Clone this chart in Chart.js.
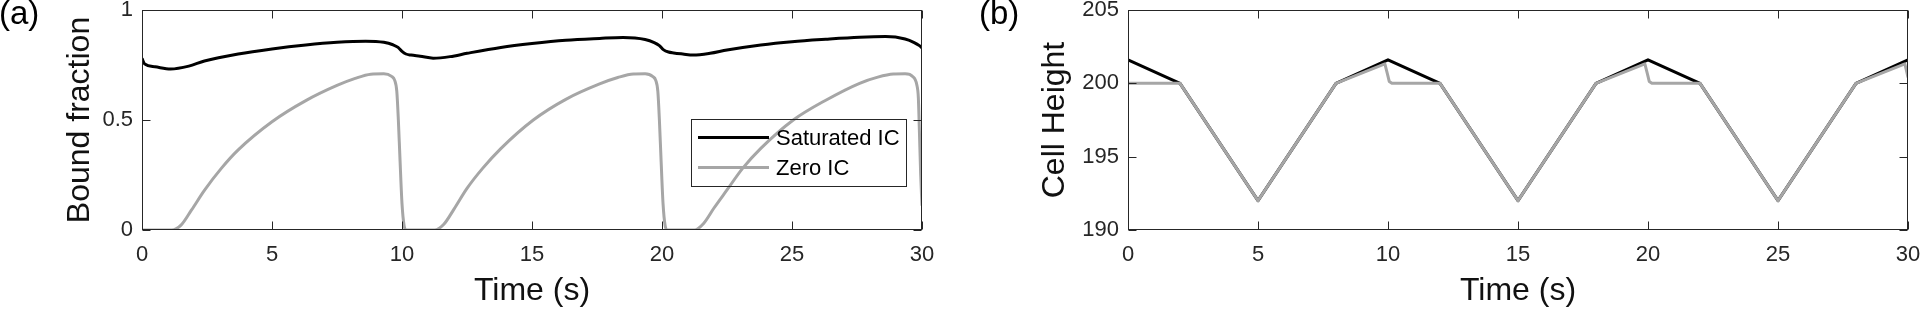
<!DOCTYPE html>
<html><head><meta charset="utf-8">
<script src="https://cdn.jsdelivr.net/npm/chart.js@4.4.0/dist/chart.umd.min.js"></script>
<style>
html,body{margin:0;padding:0;background:#fff;width:1920px;height:311px;overflow:hidden;}
.panel{position:absolute;top:0;width:960px;height:311px;}
.tag{position:absolute;font-family:"Liberation Sans",Arial,sans-serif;font-size:33px;line-height:1;color:#000;top:-4px;}
</style></head><body>
<div class="panel" style="left:0"><canvas id="ca" width="960" height="311"></canvas></div>
<div class="panel" style="left:960px"><canvas id="cb" width="960" height="311"></canvas></div>
<div class="tag" style="left:-1px">(a)</div>
<div class="tag" style="left:979px">(b)</div>
<script>
// ---------- data ----------
const seriesLabels = ['Saturated IC', 'Zero IC'];
const xTickValues = [0, 5, 10, 15, 20, 25, 30];
const yTicksA = [0, 0.5, 1];
const yTicksB = [190, 195, 200, 205];

const timeSatA = [0, 0.1, 0.5, 1.1, 1.8, 2.4, 3.7, 5.0, 6.3, 7.5, 8.6, 9.3, 9.65, 9.85, 10.0, 10.15, 10.35, 10.7, 11.2, 11.85, 12.5, 13.8, 15.0, 16.3, 17.6, 18.5, 19.35, 19.7, 19.9, 20.05, 20.25, 20.45, 20.8, 21.2, 21.85, 22.5, 23.8, 25.0, 26.3, 27.6, 28.6, 29.35, 29.7, 29.9, 30.0];
const boundSat = [0.780, 0.755, 0.742, 0.732, 0.745, 0.768, 0.800, 0.823, 0.841, 0.853, 0.858, 0.853, 0.842, 0.830, 0.812, 0.800, 0.795, 0.790, 0.781, 0.788, 0.803, 0.830, 0.848, 0.863, 0.871, 0.875, 0.866, 0.852, 0.838, 0.820, 0.809, 0.805, 0.800, 0.795, 0.803, 0.818, 0.841, 0.856, 0.867, 0.876, 0.879, 0.868, 0.852, 0.838, 0.828];

const timeZeroA = [0, 1.15, 1.5, 1.9, 2.4, 3.05, 3.7, 5.0, 6.3, 7.5, 8.2, 8.8, 9.3, 9.6, 9.72, 9.8, 9.86, 9.92, 10.0, 10.08, 10.15,
  11.25, 11.6, 12.0, 12.5, 13.1, 13.8, 15.05, 16.3, 17.6, 18.3, 18.9, 19.35, 19.65, 19.76, 19.84, 19.9, 19.96, 20.04, 20.12, 20.2,
  21.25, 21.6, 22.0, 22.5, 23.1, 23.8, 25.05, 26.3, 27.6, 28.3, 28.9, 29.35, 29.65, 29.8, 29.86, 29.9, 29.95, 30.0];
const boundZero = [0, 0, 0.022, 0.09, 0.18, 0.28, 0.364, 0.492, 0.588, 0.657, 0.689, 0.708, 0.710, 0.698, 0.68, 0.63, 0.50, 0.33, 0.12, 0.02, 0,
  0, 0.025, 0.095, 0.189, 0.28, 0.37, 0.50, 0.594, 0.664, 0.693, 0.709, 0.710, 0.697, 0.68, 0.63, 0.50, 0.33, 0.12, 0.02, 0,
  0, 0.03, 0.10, 0.182, 0.28, 0.371, 0.50, 0.59, 0.667, 0.695, 0.709, 0.710, 0.697, 0.66, 0.60, 0.45, 0.25, 0.11];

const timeSatB = [0, 2, 5, 8, 10, 12, 15, 18, 20, 22, 25, 28, 30];
const heightSat = [201.6, 200, 192, 200, 201.6, 200, 192, 200, 201.6, 200, 192, 200, 201.6];

const timeZeroB = [0, 2, 5, 8, 9.88, 9.97, 10.05, 10.15, 12, 15, 18, 19.88, 19.97, 20.05, 20.15, 22, 25, 28, 29.88, 29.95, 30];
const heightZero = [200, 200, 192, 200, 201.32, 200.7, 200.12, 200, 200, 192, 200, 201.32, 200.7, 200.12, 200, 200, 192, 200, 201.32, 200.8, 200.4];

// ---------- styling ----------
const FONT = '"Liberation Sans", Arial, sans-serif';
const AXIS = '#262626';
const BLACK = '#000000';
const GRAY = '#a6a6a6';
Chart.defaults.font.family = FONT;

const zip = (xs, ys) => xs.map((x, i) => ({x, y: ys[i]}));

const framePlugin = {
  id: 'frame',
  afterDatasetsDraw(chart) {
    const {ctx, chartArea: a, scales: {x, y}} = chart;
    const L = Math.round(a.left) + 0.5, R = Math.round(a.right) - 0.5;
    const T = Math.round(a.top) + 0.5, B = Math.round(a.bottom) - 0.5;
    ctx.save();
    ctx.strokeStyle = AXIS; ctx.lineWidth = 1;
    ctx.strokeRect(L, T, R - L, B - T);
    ctx.beginPath();
    x.ticks.forEach(t => {
      const p = Math.round(x.getPixelForValue(t.value)) + 0.5;
      ctx.moveTo(p, B); ctx.lineTo(p, B - 8);
      ctx.moveTo(p, T); ctx.lineTo(p, T + 8);
    });
    y.ticks.forEach(t => {
      const p = Math.round(y.getPixelForValue(t.value)) + 0.5;
      ctx.moveTo(L, p); ctx.lineTo(L + 8, p);
      ctx.moveTo(R, p); ctx.lineTo(R - 8, p);
    });
    ctx.stroke();
    ctx.restore();
  }
};

const legendPlugin = {
  id: 'boxLegend',
  afterDatasetsDraw(chart, args, o) {
    if (!o || !o.show) return;
    const {ctx, chartArea: a} = chart;
    const bx = Math.round(a.left + o.dx), by = Math.round(a.top + o.dy);
    ctx.save();
    ctx.strokeStyle = AXIS; ctx.lineWidth = 1;
    ctx.strokeRect(bx + 0.5, by + 0.5, o.w, o.h);
    ctx.font = '22px ' + FONT;
    ctx.textBaseline = 'middle'; ctx.textAlign = 'left';
    ctx.fillStyle = '#000';
    chart.data.datasets.forEach((ds, i) => {
      const ly = by + o.row0 + i * o.rowH;
      ctx.strokeStyle = ds.borderColor; ctx.lineWidth = ds.borderWidth;
      ctx.beginPath(); ctx.moveTo(bx + 7, ly); ctx.lineTo(bx + 78, ly); ctx.stroke();
      ctx.fillText(ds.label, bx + 85, ly + 1);
    });
    ctx.restore();
  }
};

function makeOptions(yMin, yMax, yTicks, yTitle, yTitlePad, yWidth, rightPad, legendOpts) {
  return {
    responsive: false,
    animation: false,
    events: [],
    layout: {padding: {left: 0, top: 10, right: rightPad, bottom: 0}},
    elements: {point: {radius: 0}},
    plugins: {
      legend: {display: false},
      tooltip: {enabled: false},
      boxLegend: legendOpts
    },
    scales: {
      x: {
        type: 'linear', min: 0, max: 30,
        afterBuildTicks: s => { s.ticks = xTickValues.map(v => ({value: v})); },
        ticks: {padding: 12, font: {size: 22, lineHeight: 1.2}, color: AXIS, maxRotation: 0, autoSkip: false, callback: v => String(v)},
        grid: {display: false, drawTicks: false},
        border: {display: false},
        title: {display: true, text: 'Time (s)', color: '#111', font: {size: 32, lineHeight: 1.2}, padding: {top: 0, bottom: 1}},
        afterFit: s => { s.height = 81; s.paddingLeft = 0; s.paddingRight = 0; }
      },
      y: {
        type: 'linear', min: yMin, max: yMax,
        afterBuildTicks: s => { s.ticks = yTicks.map(v => ({value: v})); },
        ticks: {padding: 9, font: {size: 22, lineHeight: 1.2}, color: AXIS, autoSkip: false, callback: v => String(v)},
        grid: {display: false, drawTicks: false},
        border: {display: false},
        title: {display: true, text: yTitle, color: '#111', font: {size: 32, lineHeight: 1.2}, padding: {top: yTitlePad, bottom: 0}},
        afterFit: s => { s.width = yWidth; s.paddingTop = 0; s.paddingBottom = 0; }
      }
    }
  };
}

new Chart(document.getElementById('ca'), {
  type: 'line',
  data: {
    datasets: [
      {label: seriesLabels[0], data: zip(timeSatA, boundSat), borderColor: BLACK, borderWidth: 3, cubicInterpolationMode: 'monotone', order: 1, fill: false},
      {label: seriesLabels[1], data: zip(timeZeroA, boundZero), borderColor: GRAY, borderWidth: 3, cubicInterpolationMode: 'monotone', order: 0, fill: false}
    ]
  },
  options: makeOptions(0, 1, yTicksA, 'Bound fraction', 61, 142, 38,
    {show: true, dx: 549, dy: 109, w: 215, h: 67, row0: 18.5, rowH: 30}),
  plugins: [framePlugin, legendPlugin]
});

new Chart(document.getElementById('cb'), {
  type: 'line',
  data: {
    datasets: [
      {label: seriesLabels[0], data: zip(timeSatB, heightSat), borderColor: BLACK, borderWidth: 3, tension: 0, borderJoinStyle: 'round', order: 1, fill: false},
      {label: seriesLabels[1], data: zip(timeZeroB, heightZero), borderColor: GRAY, borderWidth: 3, tension: 0, borderJoinStyle: 'round', order: 0, fill: false}
    ]
  },
  options: makeOptions(190, 205, yTicksB, 'Cell Height', 76, 168, 12, {show: false}),
  plugins: [framePlugin, legendPlugin]
});
</script>
</body></html>
